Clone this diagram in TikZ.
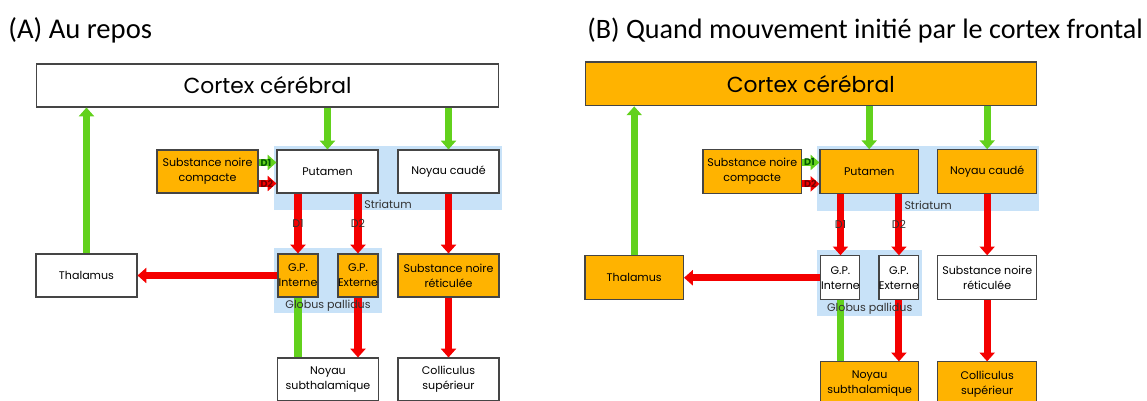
\documentclass[tikz,border=0pt]{standalone}
\usepackage{fontspec}
\setmainfont{Carlito}
\newfontfamily\gothic{Poppins}
\usetikzlibrary{arrows.meta,fit}
\definecolor{boxorange}{HTML}{FFB300}
\definecolor{boxline}{HTML}{454545}
\definecolor{exgreen}{HTML}{62D11C}
\definecolor{inred}{HTML}{F40000}
\definecolor{zoneblue}{HTML}{C8E2F8}

\tikzset{
  box/.style={draw=boxline, line width=0.6pt, inner sep=0pt, align=center,
    font=\gothic\fontsize{6.3}{8.5}\selectfont},
  zone/.style={fill=zoneblue, inner sep=0pt},
  garrow/.style={exgreen, line width=4pt, -{Triangle[width=8.5pt,length=5pt]}},
  rarrow/.style={inred, line width=4pt, -{Triangle[width=8.5pt,length=5pt]}},
  tag/.style={font=\gothic\fontsize{6.3}{8}\selectfont, text=black!80, inner sep=1pt},
}

\begin{document}
\begin{tikzpicture}[x=0.02cm, y=-0.02cm]
  \useasboundingbox (0,0) rectangle (1147,401);

  \node[anchor=west, inner sep=0pt, font=\fontsize{16.3}{19}\selectfont] (titleA) at (8,30) {(A) Au repos};
  \node[anchor=west, inner sep=0pt, font=\fontsize{16}{19}\selectfont] (titleB) at (587,30) {(B) Quand mouvement initié par le cortex frontal};

  % same circuit twice: at rest, then during movement
  \foreach \p/\dx/\dy/\sx/\sy/\fcor/\fstr/\fgp/\fout in
    {A/0/0/1/1/white/white/boxorange/white,
     B/549.9/-3.3/0.975/1.02/boxorange/boxorange/white/boxorange}{
  \begin{scope}[shift={(\dx,\dy)}, xscale=\sx, yscale=\sy,
      wide/.style={box, minimum width=\sx*2.02cm, minimum height=\sy*0.86cm},
      slim/.style={box, minimum width=\sx*0.8cm, minimum height=\sy*0.86cm}]
    % blue zones
    \node[zone, fit={(274,146) (502,210)}] (stri\p) {};
    \node[zone, fit={(274,248) (382,313)}] (gp\p) {};

    % boxes
    \node[box, fill=\fcor, minimum width=\sx*9.26cm, minimum height=\sy*0.86cm,
      font=\gothic\fontsize{12.4}{15}\selectfont] (cortex\p) at (267.5,85.5) {Cortex cérébral};
    \node[wide, fill=boxorange] (snc\p) at (207.5,171.5) {Substance noire\\compacte};
    \node[wide, fill=\fstr] (put\p) at (327.5,171.5) {Putamen};
    \node[wide, fill=\fstr] (cau\p) at (448.5,171.5) {Noyau caudé};
    \node[slim, fill=\fgp] (gpi\p) at (298,275.5) {G.P.\\Interne};
    \node[slim, fill=\fgp] (gpe\p) at (358,275.5) {G.P.\\Externe};
    \node[wide, fill=\fgp] (snr\p) at (448.5,275.5) {Substance noire\\réticulée};
    \node[wide, fill=\fout] (thal\p) at (86.5,275.5) {Thalamus};
    \node[wide, fill=\fout] (nst\p) at (328,379.5) {Noyau\\subthalamique};
    \node[wide, fill=\fout] (coll\p) at (448.5,379.5) {Colliculus\\supérieur};

    % excitation
    \draw[garrow] (thal\p.north) -- (thal\p.north |- cortex\p.south);
    \draw[garrow] (put\p.north |- cortex\p.south) -- (put\p.north);
    \draw[garrow] (cau\p.north |- cortex\p.south) -- (cau\p.north);
    \draw[garrow] ([yshift=0.18cm]snc\p.east) -- ([yshift=0.18cm]put\p.west);
    \draw[exgreen, line width=4pt] (gpi\p.south |- nst\p.north) -- (gpi\p.south);

    % inhibition
    \draw[rarrow] ([yshift=-0.24cm]snc\p.east) -- ([yshift=-0.24cm]put\p.west);
    \draw[rarrow] (gpi\p.north |- put\p.south) -- node[tag]{D1} (gpi\p.north);
    \draw[rarrow] (gpe\p.north |- put\p.south) -- node[tag]{D2} (gpe\p.north);
    \draw[rarrow] (cau\p.south) -- (snr\p.north);
    \draw[rarrow] (gpi\p.west) -- (thal\p.east);
    \draw[rarrow] (gpe\p.south) -- (gpe\p.south |- nst\p.north);
    \draw[rarrow] (snr\p.south) -- (coll\p.north);

    \node[tag, anchor=west, text=green!35!black, font=\gothic\bfseries\fontsize{5.5}{6}\selectfont] (d1\p) at ([yshift=0.18cm]snc\p.east) {D1};
    \node[tag, anchor=west, text=red!45!black, font=\gothic\bfseries\fontsize{5.5}{6}\selectfont] (d2\p) at ([yshift=-0.24cm]snc\p.east) {D2};
    \node[tag, anchor=south] (lstri\p) at (stri\p.south) {Striatum};
    \node[tag, anchor=south] (lgp\p) at (gp\p.south) {Globus pallidus};
  \end{scope}
  }
\end{tikzpicture}
\end{document}
